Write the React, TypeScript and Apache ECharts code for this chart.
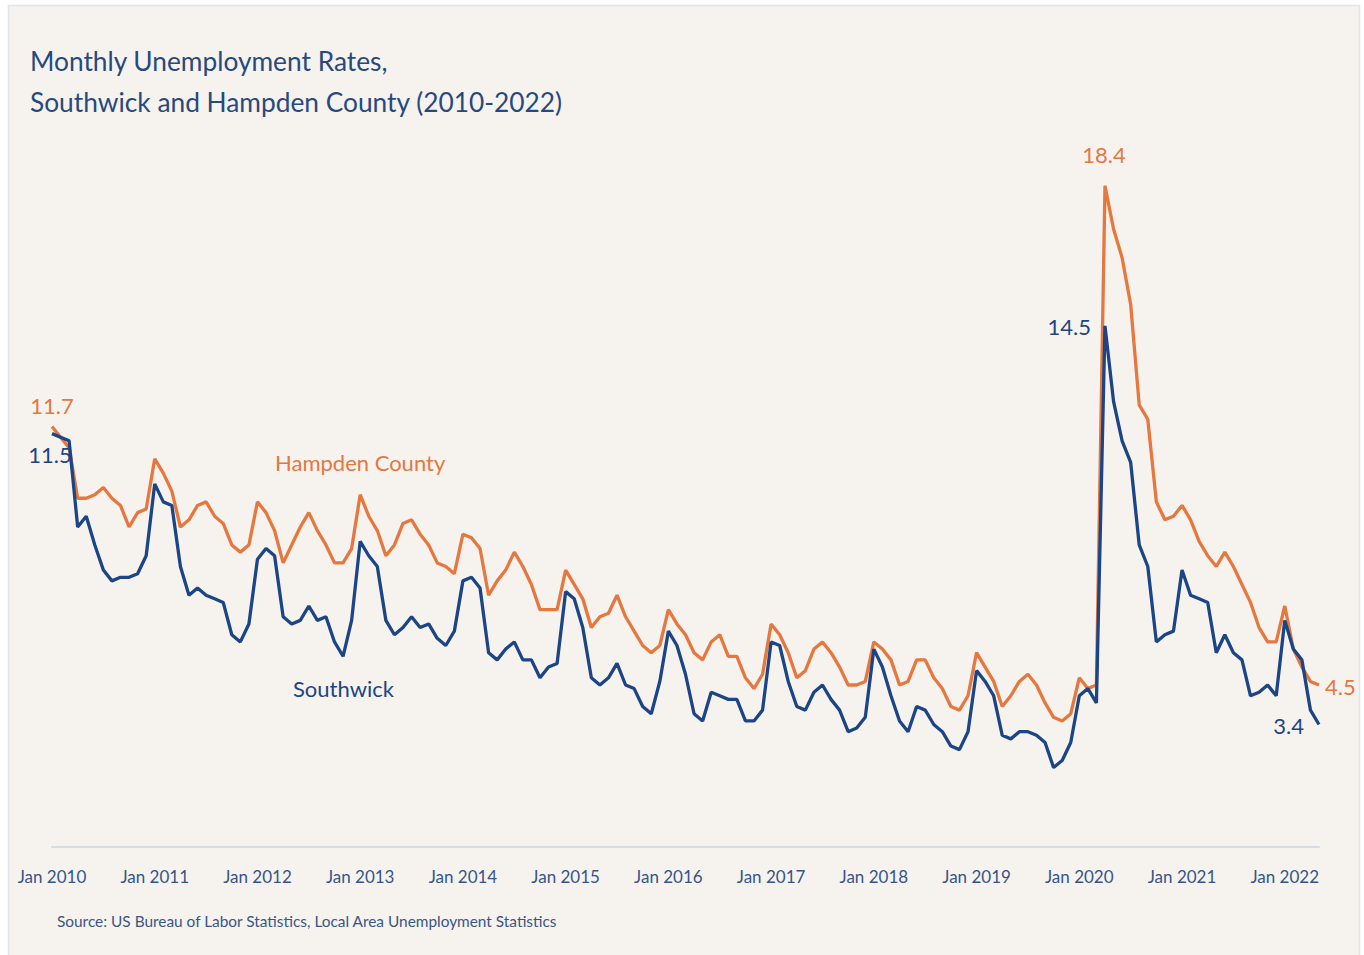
import React, { useEffect, useRef } from "react";
import * as echarts from "echarts";

const monthNames = ["Jan", "Feb", "Mar", "Apr", "May", "Jun", "Jul", "Aug", "Sep", "Oct", "Nov", "Dec"];
const startYear = 2010;
const monthCount = 149; // Jan 2010 .. May 2022
const categories: string[] = Array.from({ length: monthCount }, (_, i) => `${monthNames[i % 12]} ${startYear + Math.floor(i / 12)}`);

const hampden: number[] = [
  11.7, 11.4, 11.1, 9.7, 9.7, 9.8, 10.0, 9.7, 9.5, 8.9, 9.3, 9.4,
  10.8, 10.4, 9.9, 8.9, 9.1, 9.5, 9.6, 9.2, 9.0, 8.4, 8.2, 8.4,
  9.6, 9.3, 8.8, 7.9, 8.4, 8.9, 9.3, 8.8, 8.4, 7.9, 7.9, 8.3,
  9.8, 9.2, 8.8, 8.1, 8.4, 9.0, 9.1, 8.7, 8.4, 7.9, 7.8, 7.6,
  8.7, 8.6, 8.3, 7.0, 7.4, 7.7, 8.2, 7.8, 7.3, 6.6, 6.6, 6.6,
  7.7, 7.3, 6.9, 6.1, 6.4, 6.5, 7.0, 6.4, 6.0, 5.6, 5.4, 5.6,
  6.6, 6.2, 5.9, 5.4, 5.2, 5.7, 5.9, 5.3, 5.3, 4.7, 4.4, 4.8,
  6.2, 5.9, 5.4, 4.7, 4.9, 5.5, 5.7, 5.4, 5.0, 4.5, 4.5, 4.6,
  5.7, 5.5, 5.2, 4.5, 4.6, 5.2, 5.2, 4.7, 4.4, 3.9, 3.8, 4.2,
  5.4, 5.0, 4.6, 3.9, 4.2, 4.6, 4.8, 4.5, 4.0, 3.6, 3.5, 3.7,
  4.7, 4.4, 4.5, 18.4, 17.2, 16.4, 15.1, 12.3, 11.9, 9.6, 9.1, 9.2,
  9.5, 9.1, 8.5, 8.1, 7.8, 8.2, 7.8, 7.3, 6.8, 6.1, 5.7, 5.7,
  6.7, 5.5, 5.0, 4.6, 4.5,
];

const southwick: number[] = [
  11.5, 11.4, 11.3, 8.9, 9.2, 8.4, 7.7, 7.4, 7.5, 7.5, 7.6, 8.1,
  10.1, 9.6, 9.5, 7.8, 7.0, 7.2, 7.0, 6.9, 6.8, 5.9, 5.7, 6.2,
  8.0, 8.3, 8.1, 6.4, 6.2, 6.3, 6.7, 6.3, 6.4, 5.7, 5.3, 6.3,
  8.5, 8.1, 7.8, 6.3, 5.9, 6.1, 6.4, 6.1, 6.2, 5.8, 5.6, 6.0,
  7.4, 7.5, 7.2, 5.4, 5.2, 5.5, 5.7, 5.2, 5.2, 4.7, 5.0, 5.1,
  7.1, 6.9, 6.1, 4.7, 4.5, 4.7, 5.1, 4.5, 4.4, 3.9, 3.7, 4.6,
  6.0, 5.6, 4.8, 3.7, 3.5, 4.3, 4.2, 4.1, 4.1, 3.5, 3.5, 3.8,
  5.7, 5.6, 4.6, 3.9, 3.8, 4.3, 4.5, 4.1, 3.8, 3.2, 3.3, 3.6,
  5.5, 5.0, 4.2, 3.5, 3.2, 3.9, 3.8, 3.4, 3.2, 2.8, 2.7, 3.2,
  4.9, 4.6, 4.2, 3.1, 3.0, 3.2, 3.2, 3.1, 2.9, 2.2, 2.4, 2.9,
  4.2, 4.4, 4.0, 14.5, 12.4, 11.3, 10.7, 8.4, 7.8, 5.7, 5.9, 6.0,
  7.7, 7.0, 6.9, 6.8, 5.4, 5.9, 5.4, 5.2, 4.2, 4.3, 4.5, 4.2,
  6.3, 5.5, 5.2, 3.8, 3.4,
];

const ORANGE = "#e5773f";
const BLUE = "#1c4586";
const TEXT_BLUE = "#27497f";
const FONT = "Lato, 'Open Sans', sans-serif";

type LabelSpec = { position: any; offset: number[] };

function withLabels(values: number[], color: string, specs: Record<number, LabelSpec>) {
  return values.map((v, i) => {
    const s = specs[i];
    if (!s) return v;
    return {
      value: v,
      label: {
        show: true,
        position: s.position,
        offset: s.offset,
        formatter: (p: any) => Number(p.value).toFixed(1),
        color,
        fontSize: 22,
        fontFamily: FONT,
      },
    };
  });
}

export default function App() {
  const ref = useRef<HTMLDivElement>(null);
  useEffect(() => {
    if (!ref.current) return;
    const chart = echarts.init(ref.current, null, { renderer: "svg" });
    const last = monthCount - 1;
    const peak = hampden.indexOf(Math.max(...hampden));
    chart.setOption({
      animation: false,
      backgroundColor: "#ffffff",
      graphic: [
        {
          type: "rect",
          z: -10,
          shape: { x: 8.5, y: 5.5, width: 1351, height: 955 },
          style: { fill: "#f6f3ee", stroke: "#dfe4ee", lineWidth: 1.5 },
        },
        {
          type: "text",
          left: 30,
          top: 40,
          style: {
            text: "Monthly Unemployment Rates,\nSouthwick and Hampden County (2010-2022)",
            fill: TEXT_BLUE,
            font: `26.3px ${FONT}`,
            lineHeight: 41,
          },
        },
        {
          type: "text",
          left: 275,
          top: 451,
          style: { text: "Hampden County", fill: ORANGE, font: `22px ${FONT}` },
        },
        {
          type: "text",
          left: 293,
          top: 677,
          style: { text: "Southwick", fill: BLUE, font: `22px ${FONT}` },
        },
        {
          type: "text",
          left: 57,
          top: 913,
          style: {
            text: "Source: US Bureau of Labor Statistics, Local Area Unemployment Statistics",
            fill: "#3a5686",
            font: `15.4px ${FONT}`,
          },
        },
      ],
      grid: { left: 52, right: 45, top: 128.4, bottom: 108.4, containLabel: false },
      xAxis: {
        type: "category",
        data: categories,
        boundaryGap: false,
        axisLine: { show: true, lineStyle: { color: "#d7dbe2", width: 2 } },
        axisTick: { show: false },
        axisLabel: {
          interval: (i: number) => i % 12 === 0,
          formatter: (v: string) => v,
          color: "#35558a",
          fontSize: 17,
          fontFamily: FONT,
          margin: 21,
        },
        splitLine: { show: false },
      },
      yAxis: {
        type: "value",
        min: 0,
        max: 20,
        show: false,
        splitLine: { show: false },
      },
      series: [
        {
          name: "Hampden County",
          type: "line",
          data: withLabels(hampden, ORANGE, {
            0: { position: "top", offset: [0, -5] },
            [peak]: { position: "top", offset: [-1, -15] },
            [last]: { position: "right", offset: [1, 1] },
          }),
          showSymbol: true,
          symbol: "circle",
          symbolSize: 0,
          lineStyle: { color: ORANGE, width: 3.3 },
          itemStyle: { color: ORANGE },
          z: 2,
        },
        {
          name: "Southwick",
          type: "line",
          data: withLabels(southwick, BLUE, {
            0: { position: "bottom", offset: [-2, 5] },
            [peak]: { position: "left", offset: [-9, 1] },
            [last]: { position: "left", offset: [-10, 1] },
          }),
          showSymbol: true,
          symbol: "circle",
          symbolSize: 0,
          lineStyle: { color: BLUE, width: 3.3 },
          itemStyle: { color: BLUE },
          z: 3,
        },
      ],
    });
    return () => chart.dispose();
  }, []);
  return (
    <div style={{ position: "fixed", left: 0, top: 0, width: 1364, height: 955 }}>
      <div ref={ref} style={{ width: 1364, height: 955 }} />
    </div>
  );
}
